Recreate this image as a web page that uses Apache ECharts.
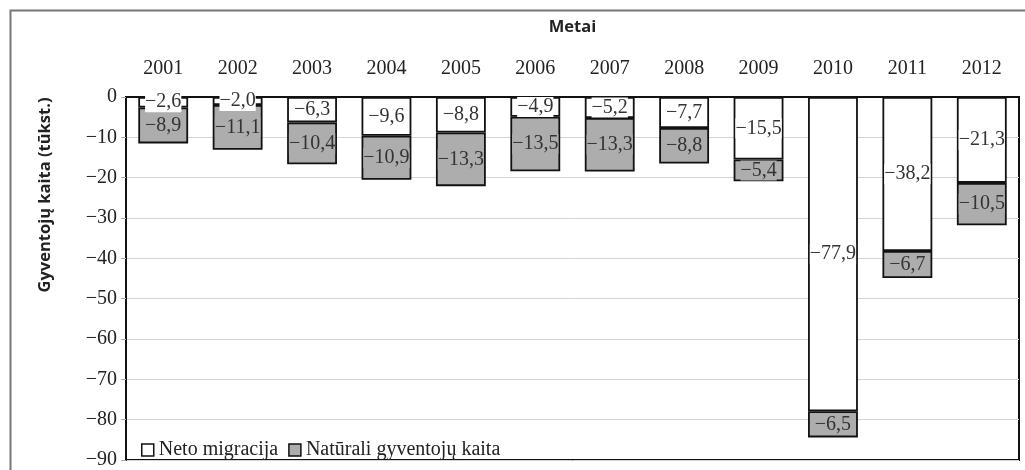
<!DOCTYPE html>
<html>
<head>
<meta charset="utf-8">
<script src="https://cdn.jsdelivr.net/npm/echarts@6/dist/echarts.min.js"></script>
<style>
html,body{margin:0;padding:0;background:#fff;}
#chart{width:1025px;height:470px;}
</style>
</head>
<body>
<div id="chart"></div>
<script>
var years = ['2001','2002','2003','2004','2005','2006','2007','2008','2009','2010','2011','2012'];
var netoMigracija = [-2.6, -2.0, -6.3, -9.6, -8.8, -4.9, -5.2, -7.7, -15.5, -77.9, -38.2, -21.3];
var naturaliKaita = [-8.9, -11.1, -10.4, -10.9, -13.3, -13.5, -13.3, -8.8, -5.4, -6.5, -6.7, -10.5];
var seriesNames = ['Neto migracija', 'Natūrali gyventojų kaita'];
var xTitle = 'Metai';
var yTitle = 'Gyventojų kaita (tūkst.)';

var serif = '"Liberation Serif", "Times New Roman", serif';
function fmt(v){
  var s = Math.abs(v).toFixed(1).replace('.', ',');
  return (v < 0 ? '\u2212' : '') + s;
}
var gray = '#adadad';

var chart = echarts.init(document.getElementById('chart'));
chart.setOption({
  animation: false,
  backgroundColor: '#fff',
  grid: {left: 126, top: 97, right: 6, bottom: 7, show: true, borderColor: '#111', borderWidth: 2, backgroundColor: 'transparent'},
  legend: {
    left: 136, top: 435, itemWidth: 12, itemHeight: 12, itemGap: 10,
    icon: 'rect',
    textStyle: {fontFamily: serif, fontSize: 20, color: '#222'},
    data: [
      {name: seriesNames[0], itemStyle: {color: '#fff', borderColor: '#111', borderWidth: 1.5}},
      {name: seriesNames[1], itemStyle: {color: gray, borderColor: '#111', borderWidth: 1.5}}
    ]
  },
  xAxis: {
    type: 'category', position: 'top', data: years,
    name: xTitle, nameLocation: 'middle', nameGap: 61,
    nameTextStyle: {fontFamily: '"Open Sans", sans-serif', fontWeight: 'bold', fontSize: 16.5, color: '#222'},
    axisLine: {lineStyle: {color: '#111', width: 2}},
    axisTick: {inside: true, length: 5, lineStyle: {color: '#bbb'}},
    axisLabel: {fontFamily: serif, fontSize: 20, color: '#222', margin: 18}
  },
  yAxis: {
    type: 'value', min: -90, max: 0, interval: 10,
    axisLine: {show: true, lineStyle: {color: '#111', width: 2}},
    axisTick: {show: true, length: 5, lineStyle: {color: '#aaa'}},
    axisLabel: {fontFamily: serif, fontSize: 20, color: '#222', margin: 9, formatter: function(v){ return fmt(v).replace(',0',''); }},
    splitLine: {lineStyle: {color: '#d4d4d4', width: 1}}
  },
  graphic: [
    {type: 'rect', left: 8, top: 8, shape: {width: 1040, height: 480}, style: {fill: 'none', stroke: '#777', lineWidth: 2}, silent: true, z: 0},
    {type: 'text', x: 45, y: 195, rotation: Math.PI/2, style: {text: yTitle, fontFamily: '"Open Sans", sans-serif', fontWeight: 'bold', fontSize: 16.5, fill: '#222', align: 'center', verticalAlign: 'middle'}}
  ],
  series: [
    {
      name: seriesNames[0], type: 'bar', stack: 'a', data: netoMigracija, barCategoryGap: '33%',
      itemStyle: {color: '#fff', borderColor: '#111', borderWidth: 1.8},
      label: {show: true, position: 'inside', fontFamily: serif, fontSize: 20, color: '#333', backgroundColor: '#fff', padding: [0, 0], formatter: function(p){ return fmt(p.value); }}
    },
    {
      name: seriesNames[1], type: 'bar', stack: 'a', data: naturaliKaita,
      itemStyle: {color: gray, borderColor: '#111', borderWidth: 1.8},
      label: {show: true, position: 'inside', fontFamily: serif, fontSize: 20, color: '#333', backgroundColor: gray, padding: [0, 0], formatter: function(p){ return fmt(p.value); }}
    }
  ]
});
</script>
</body>
</html>
